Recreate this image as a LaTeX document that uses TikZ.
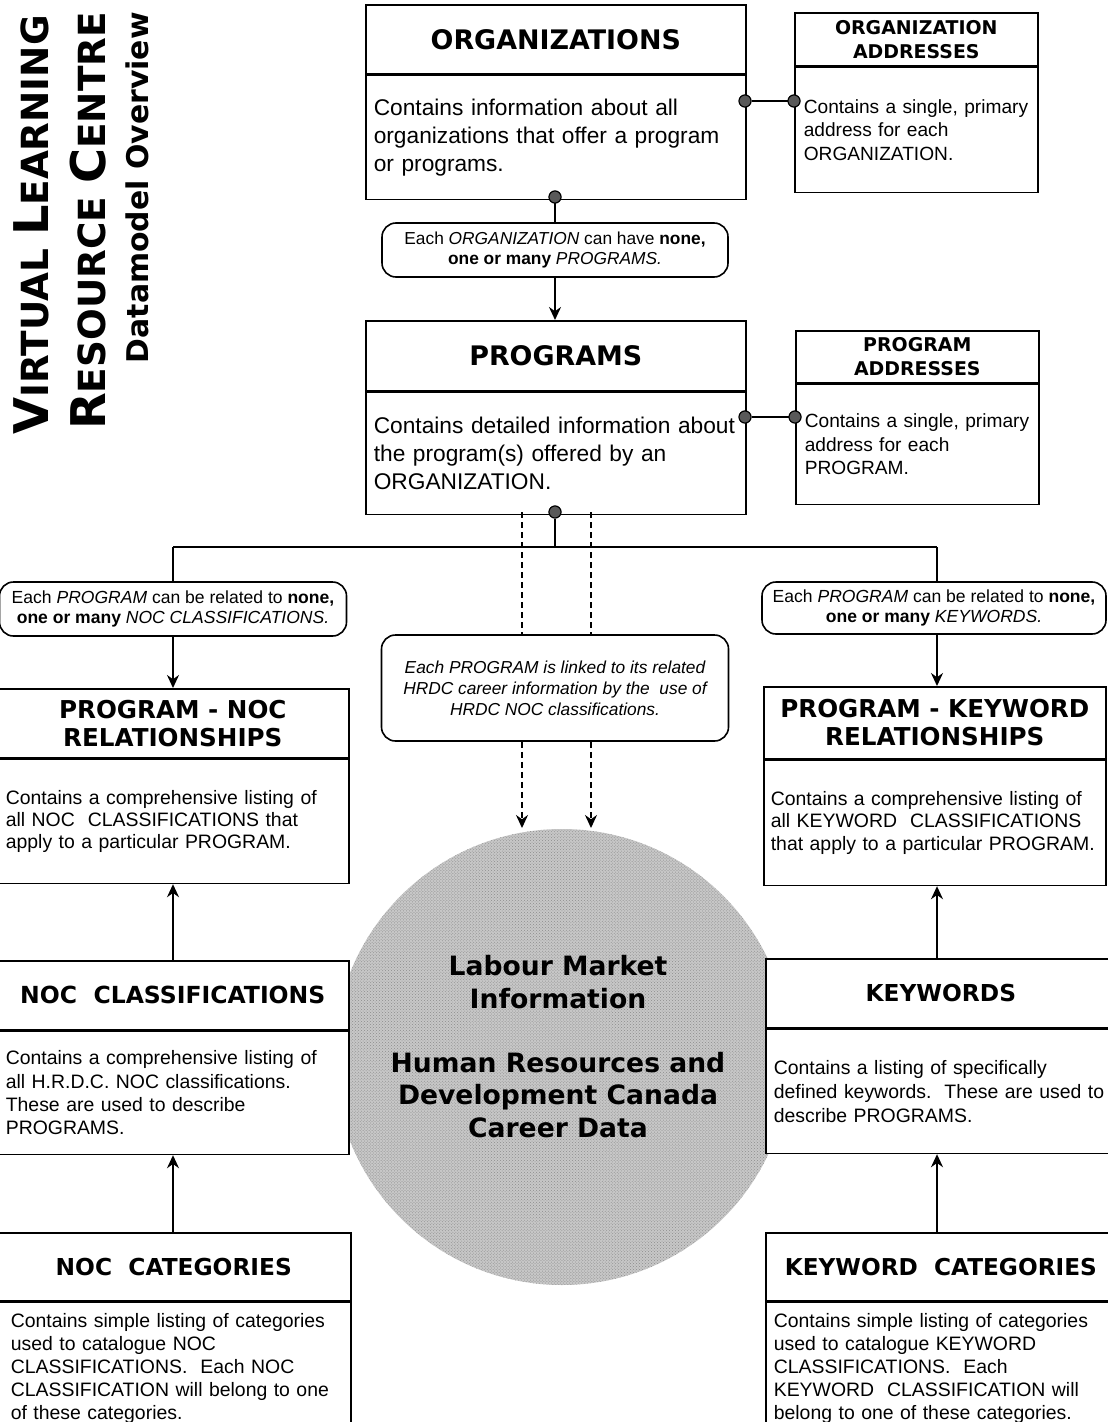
\documentclass[tikz,border=0pt]{standalone}
\usepackage{fontspec}
\setmainfont{Liberation Sans}
\newfontfamily\heavy{DejaVu Sans}
\usetikzlibrary{arrows.meta,patterns}
\newcommand\fsz[2]{\fontsize{#1}{#2}\selectfont}
\begin{document}
\begin{tikzpicture}[x=1bp,y=-1bp,
  ttl/.style={draw, line width=1.6bp, fill=white, rectangle, anchor=north west, inner sep=0pt, align=center},
  bdy/.style={draw, line width=1.6bp, fill=white, rectangle, anchor=north west, inner xsep=8bp, inner ysep=0pt, align=left},
  bub/.style={draw, line width=1.6bp, rounded corners=14bp, fill=white, rectangle, align=center, inner sep=0pt},
  conn/.style={line width=1.8bp},
  arr/.style={line width=1.8bp, -{Stealth[length=13bp,width=12bp]}},
  dsh/.style={line width=1.6bp, dash pattern=on 6bp off 4bp},
  dsharr/.style={line width=1.6bp, dash pattern=on 6bp off 4bp, -{Stealth[length=13bp,width=12bp]}},
  dot/.style={circle, fill=black!65, draw=black, line width=1bp, minimum size=12bp, inner sep=0pt}
]
\useasboundingbox (0,0) rectangle (1107,1422);

% ---------- data blob ----------
\node[circle, minimum size=456bp, fill=black!22, inner sep=0pt] (blob) at (562,1057) {};
\fill[pattern=crosshatch dots, pattern color=black!45] (562,1057) circle (228);
\node[font=\heavy\bfseries\fsz{26.7}{33}, align=center] (lmi) at (558,982) {Labour Market\\Information};
\node[font=\heavy\bfseries\fsz{26.7}{33}, align=center] (hrd) at (558,1095) {Human Resources and\\Development Canada\\Career Data};

% ---------- side title ----------
\node[rotate=90, anchor=base east, inner sep=0pt, font=\heavy\bfseries] (t1) at (48,15)
  {\fsz{48}{48}V\fsz{37.5}{37.5}IRTUAL \fsz{48}{48}L\fsz{37.5}{37.5}EARNING};
\node[rotate=90, anchor=base east, inner sep=0pt, font=\heavy\bfseries] (t2) at (105,12)
  {\fsz{48}{48}R\fsz{37.5}{37.5}ESOURCE \fsz{48}{48}C\fsz{37.5}{37.5}ENTRE};
\node[rotate=90, anchor=base east, inner sep=0pt, font=\heavy\bfseries\fsz{30}{30}] (t3) at (148,12)
  {Datamodel Overview};

% ---------- ORGANIZATIONS ----------
\node[ttl, minimum width=380bp, minimum height=69bp, font=\heavy\bfseries\fsz{27}{30}] (orgT) at (365,4) {ORGANIZATIONS};
\node[bdy, text width=364bp, minimum height=124bp, font=\fsz{22.8}{28}] (orgB) at (orgT.south west)
  {Contains information about all\\organizations that offer a program\\or programs.};

\node[ttl, minimum width=243bp, minimum height=53bp, font=\heavy\bfseries\fsz{19}{24}] (oaT) at (794,12) {ORGANIZATION\\ADDRESSES};
\node[bdy, text width=225bp, inner xsep=9bp, minimum height=125bp, font=\fsz{19.2}{23.5}] (oaB) at (oaT.south west)
  {Contains a single, primary\\address for each\\ORGANIZATION.};

% ---------- PROGRAMS ----------
\node[ttl, minimum width=380bp, minimum height=70bp, font=\heavy\bfseries\fsz{27}{30}] (progT) at (365,320) {PROGRAMS};
\node[bdy, text width=364bp, minimum height=122bp, font=\fsz{22.8}{28}] (progB) at (progT.south west)
  {Contains detailed information about\\the program(s) offered by an\\ORGANIZATION.};

\node[ttl, minimum width=243bp, minimum height=52bp, font=\heavy\bfseries\fsz{19}{24}] (paT) at (795,330) {PROGRAM\\ADDRESSES};
\node[bdy, text width=225bp, inner xsep=9bp, minimum height=120bp, font=\fsz{19.2}{23.5}] (paB) at (paT.south west)
  {Contains a single, primary\\address for each\\PROGRAM.};

% ---------- relationship bubbles ----------
\node[bub, minimum width=346bp, minimum height=54bp, font=\fsz{17.4}{21}] (bOrg) at (555,250)
  {Each \textit{ORGANIZATION} can have \textbf{none,}\\\textbf{one or many} \textit{PROGRAMS.}};
\node[bub, minimum width=347bp, minimum height=54bp, font=\fsz{17.6}{21}] (bNoc) at (173,609)
  {Each \textit{PROGRAM} can be related to \textbf{none,}\\\textbf{one or many} \textit{NOC CLASSIFICATIONS.}};
\node[bub, minimum width=344bp, minimum height=52bp, font=\fsz{17.6}{21}] (bKey) at (934,608)
  {Each \textit{PROGRAM} can be related to \textbf{none,}\\\textbf{one or many} \textit{KEYWORDS.}};
\node[bub, minimum width=347bp, minimum height=106bp, font=\itshape\fsz{17.4}{21}] (bHr) at (555,688)
  {Each PROGRAM is linked to its related\\HRDC career information by the\ \ use of\\HRDC NOC classifications.};

% ---------- left column ----------
\node[ttl, minimum width=352bp, minimum height=69bp, font=\heavy\bfseries\fsz{24.7}{28}] (pnocT) at (-4,688) {PROGRAM - NOC\\RELATIONSHIPS};
\node[bdy, text width=334bp, inner xsep=9bp, minimum height=124bp, font=\fsz{19.5}{22.5}] (pnocB) at (pnocT.south west)
  {Contains a comprehensive listing of\\all NOC\ \ CLASSIFICATIONS that\\apply to a particular PROGRAM.};

\node[ttl, minimum width=352bp, minimum height=69bp, font=\heavy\bfseries\fsz{23.6}{28}] (noccT) at (-4,960) {NOC\ \ CLASSIFICATIONS};
\node[bdy, text width=334bp, inner xsep=9bp, minimum height=123bp, font=\fsz{19.5}{23.5}] (noccB) at (noccT.south west)
  {Contains a comprehensive listing of\\all H.R.D.C. NOC classifications.\\These are used to describe\\PROGRAMS.};

\node[ttl, minimum width=354bp, minimum height=68bp, font=\heavy\bfseries\fsz{23.4}{28}] (ncatT) at (-4,1232) {NOC\ \ CATEGORIES};
\node[bdy, text width=326bp, inner xsep=14bp, minimum height=132bp, font=\fsz{19.5}{23.3}] (ncatB) at (ncatT.south west)
  {Contains simple listing of categories\\used to catalogue NOC\\CLASSIFICATIONS.\ \ Each NOC\\CLASSIFICATION will belong to one\\of these categories.};

% ---------- right column ----------
\node[ttl, minimum width=342bp, minimum height=72bp, font=\heavy\bfseries\fsz{24.7}{28}] (pkeyT) at (763,686) {PROGRAM - KEYWORD\\RELATIONSHIPS};
\node[bdy, text width=328bp, inner xsep=7bp, minimum height=125bp, font=\fsz{19.5}{22.5}] (pkeyB) at (pkeyT.south west)
  {Contains a comprehensive listing of\\all KEYWORD\ \ CLASSIFICATIONS\\that apply to a particular PROGRAM.};

\node[ttl, minimum width=350bp, minimum height=69bp, font=\heavy\bfseries\fsz{23.4}{28}] (keyT) at (765,958) {KEYWORDS};
\node[bdy, text width=334bp, inner xsep=8bp, minimum height=124bp, font=\fsz{19.5}{24}] (keyB) at (keyT.south west)
  {Contains a listing of specifically\\defined keywords.\ \ These are used to\\describe PROGRAMS.};

\node[ttl, minimum width=350bp, minimum height=68bp, font=\heavy\bfseries\fsz{23.3}{28}] (kcatT) at (765,1232) {KEYWORD\ \ CATEGORIES};
\node[bdy, text width=334bp, inner xsep=8bp, minimum height=132bp, font=\fsz{19.5}{23.3}] (kcatB) at (kcatT.south west)
  {Contains simple listing of categories\\used to catalogue KEYWORD\\CLASSIFICATIONS.\ \ Each\\KEYWORD\ \ CLASSIFICATION will\\belong to one of these categories.};

% ---------- connectors ----------
\node[dot] (dA) at (745,101) {};
\node[dot] (dB) at (794,101) {};
\node[dot] (dC) at (745,417) {};
\node[dot] (dD) at (795,417) {};
\node[dot] (dE) at (555,197) {};
\node[dot] (dF) at (555,512) {};
\coordinate (jn) at (555,547);
\coordinate (jl) at (173,547);
\coordinate (jr) at (937,547);
\coordinate (qa) at (522,512);
\coordinate (qb) at (591,512);
\coordinate (qa2) at (522,828);
\coordinate (qb2) at (591,828);

\draw[conn] (dA) -- (dB);
\draw[conn] (dC) -- (dD);
\draw[conn] (dE) -- (dE |- bOrg.north);
\draw[arr] (dE |- bOrg.south) -- (dE |- progT.north);
\draw[conn] (dF) -- (jn);
\draw[conn] (jl) -- (jr);
\draw[conn] (jl) -- (jl |- bNoc.north);
\draw[arr] (jl |- bNoc.south) -- (jl |- pnocT.north);
\draw[conn] (jr) -- (jr |- bKey.north);
\draw[arr] (jr |- bKey.south) -- (jr |- pkeyT.north);
\draw[arr] (jl |- noccT.north) -- (jl |- pnocB.south);
\draw[arr] (jl |- ncatT.north) -- (jl |- noccB.south);
\draw[arr] (jr |- keyT.north) -- (jr |- pkeyB.south);
\draw[arr] (jr |- kcatT.north) -- (jr |- keyB.south);
\draw[dsh] (qa) -- (qa |- bHr.north);
\draw[dsh] (qb) -- (qb |- bHr.north);
\draw[dsharr] (qa |- bHr.south) -- (qa2);
\draw[dsharr] (qb |- bHr.south) -- (qb2);
\node[dot] at (dA) {};
\node[dot] at (dB) {};
\node[dot] at (dC) {};
\node[dot] at (dD) {};
\node[dot] at (dE) {};
\node[dot] at (dF) {};
\end{tikzpicture}
\end{document}
